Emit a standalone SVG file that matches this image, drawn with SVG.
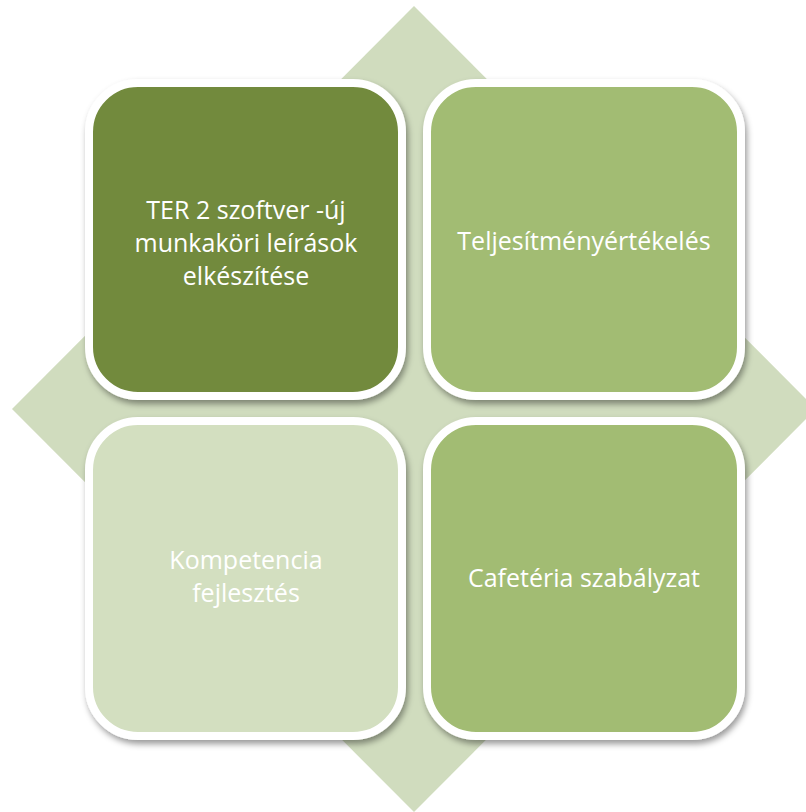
<svg xmlns="http://www.w3.org/2000/svg" width="806" height="812" viewBox="0 0 806 812">
<style>
.box{stroke:#ffffff;stroke-width:8;filter:url(#sh)}
.t{font-family:"Open Sans","Liberation Sans",sans-serif;font-size:25px;fill:#ffffff;text-anchor:middle}
</style>
<defs>
<filter id="sh" x="-10%" y="-10%" width="120%" height="120%">
<feDropShadow dx="2" dy="4" stdDeviation="3" flood-color="#000000" flood-opacity="0.4"/>
</filter>
</defs>
<rect width="806" height="812" fill="#ffffff"/>
<polygon id="diamond" points="414,6 816,409 414,812 12,409" fill="#d0dcbe"/>
<g id="connectors"></g>
<g id="node-ter">
<rect class="box" x="89" y="83" width="313" height="313" rx="49" fill="#728a3e"/>
<text class="t" x="246" y="219">TER 2 szoftver -új</text>
<text class="t" x="246" y="252">munkaköri leírások</text>
<text class="t" x="246" y="285">elkészítése</text>
</g>
<g id="node-telj">
<rect class="box" x="427" y="83" width="314" height="313" rx="49" fill="#a2bc73"/>
<text class="t" x="584" y="250">Teljesítményértékelés</text>
</g>
<g id="node-komp">
<rect class="box" x="89" y="421" width="313" height="315" rx="49" fill="#d3dfc0"/>
<text class="t" x="246" y="569">Kompetencia</text>
<text class="t" x="246" y="602">fejlesztés</text>
</g>
<g id="node-caf">
<rect class="box" x="427" y="421" width="314" height="315" rx="49" fill="#a2bc73"/>
<text class="t" x="584" y="587">Cafetéria szabályzat</text>
</g>
</svg>
